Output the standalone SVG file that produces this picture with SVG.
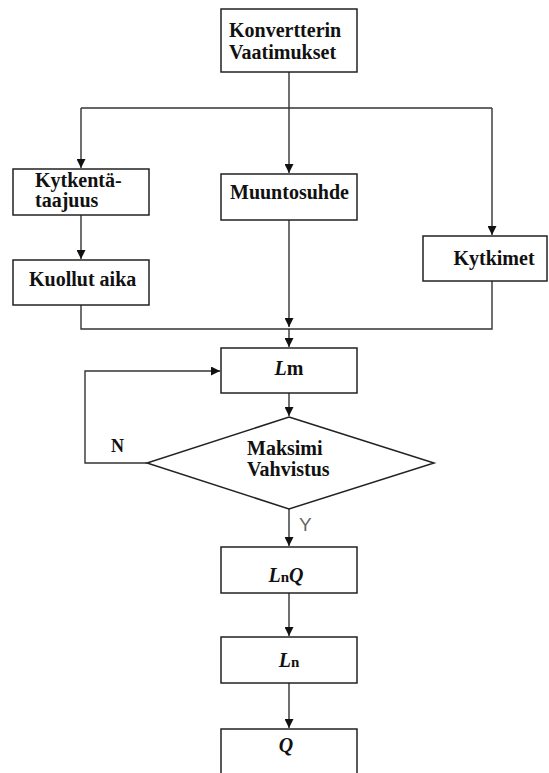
<svg xmlns="http://www.w3.org/2000/svg" width="549" height="773" viewBox="0 0 549 773">
<defs>
<marker id="ah" viewBox="0 0 10 10" refX="10" refY="5" markerWidth="9" markerHeight="9" markerUnits="userSpaceOnUse" orient="auto">
<path d="M0,0 L10,5 L0,10 z" fill="#111"/>
</marker>
<style>
.box{fill:#fff;stroke:#222;stroke-width:1.5}
.ln{fill:none;stroke:#333;stroke-width:1.4}
.t{font-family:'Liberation Serif','Tinos','Times New Roman','DejaVu Serif',serif;font-weight:bold;font-size:20px;fill:#111}
.c{text-anchor:middle}
.i{font-style:italic}
</style>
</defs>
<rect width="549" height="773" fill="#fff"/>
<g id="connectors">
<path class="ln" d="M289,72 V108"/>
<path class="ln" d="M81,108 H492"/>
<path class="ln" d="M81,108 V168" marker-end="url(#ah)"/>
<path class="ln" d="M289,108 V173" marker-end="url(#ah)"/>
<path class="ln" d="M492,108 V235" marker-end="url(#ah)"/>
<path class="ln" d="M81,215 V259" marker-end="url(#ah)"/>
<path class="ln" d="M289,220 V327" marker-end="url(#ah)"/>
<path class="ln" d="M81,305 V329 H492 V281"/>
<path class="ln" d="M289,329 V347" marker-end="url(#ah)"/>
<path class="ln" d="M289,393 V416" marker-end="url(#ah)"/>
<path class="ln" d="M147,463 H85 V371 H220" marker-end="url(#ah)"/>
<path class="ln" d="M289,509 V546" marker-end="url(#ah)"/>
<path class="ln" d="M289,593 V636" marker-end="url(#ah)"/>
<path class="ln" d="M289,683 V728" marker-end="url(#ah)"/>
<text class="t" x="111" y="452" style="font-size:18px">N</text>
<text x="299" y="531" font-family="Liberation Sans, Arial, sans-serif" font-size="19" fill="#666">Y</text>
</g>
<g id="n-konv">
<rect class="box" x="221" y="9" width="136" height="63"/>
<text class="t" x="229" y="37">Konvertterin</text>
<text class="t" x="229" y="59">Vaatimukset</text>
</g>
<g id="n-kytkenta">
<rect class="box" x="13" y="169" width="136" height="46"/>
<text class="t" x="35" y="187">Kytkentä-</text>
<text class="t" x="35" y="207">taajuus</text>
</g>
<g id="n-kuollut">
<rect class="box" x="13" y="260" width="136" height="45"/>
<text class="t" x="29" y="286">Kuollut aika</text>
</g>
<g id="n-muunto">
<rect class="box" x="221" y="174" width="136" height="46"/>
<text class="t" x="230" y="199">Muuntosuhde</text>
</g>
<g id="n-kytkimet">
<rect class="box" x="423" y="236" width="124" height="45"/>
<text class="t c" x="494" y="265">Kytkimet</text>
</g>
<g id="n-lm">
<rect class="box" x="221" y="348" width="136" height="45"/>
<text class="t c" x="289" y="375"><tspan class="i">L</tspan>m</text>
</g>
<g id="n-maksimi">
<polygon class="box" points="289,417 434,463 289,509 147,463"/>
<text class="t" x="247" y="455">Maksimi</text>
<text class="t" x="247" y="476">Vahvistus</text>
</g>
<g id="n-lnq">
<rect class="box" x="221" y="547" width="136" height="46"/>
<text class="t c" x="286" y="582"><tspan class="i">L</tspan><tspan style="font-size:15px">n</tspan><tspan class="i">Q</tspan></text>
</g>
<g id="n-ln">
<rect class="box" x="221" y="637" width="136" height="46"/>
<text class="t c" x="289" y="667"><tspan class="i">L</tspan><tspan style="font-size:15px">n</tspan></text>
</g>
<g id="n-q">
<rect class="box" x="221" y="729" width="136" height="50"/>
<text class="t c i" x="286" y="752">Q</text>
</g>
</svg>
